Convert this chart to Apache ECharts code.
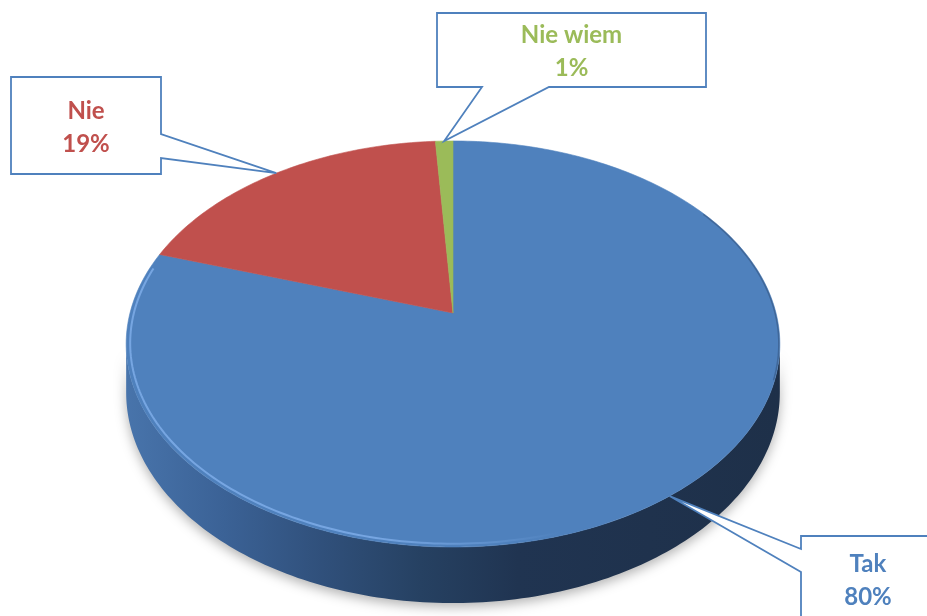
<!DOCTYPE html>
<html><head><meta charset="utf-8">
<script src="https://cdn.jsdelivr.net/npm/echarts@6/dist/echarts.min.js"></script>
<style>html,body{margin:0;padding:0;background:#fff}#c{width:927px;height:616px}</style>
</head><body><div id="c"></div>
<script>
// ---- data ----
const categories = ['Tak', 'Nie', 'Nie wiem'];
const values = [80, 19, 1];

// ---- styles / layout ----
const COLORS = ['#4F81BD', '#C0504D', '#9BBB59'];
const GEO = {cx: 453, cy: 313, a: 323, b: 198.3, k: 0.1527, depth: 47.5};
const CALLOUTS = [
  {box: [801, 536, 935, 625], side: 'left',   base: [549, 572], lines: [564, 597]},
  {box: [11, 77, 161, 174],   side: 'right',  base: [134, 158], lines: [111, 144]},
  {box: [437, 13, 706, 87],   side: 'bottom', base: [482, 549], lines: [35, 68]}
];
const FONT = 'bold 24px Lato, "Open Sans", sans-serif';

function proj(theta, drop, scale) {
  const sc = scale || 1;
  const u = Math.sin(theta) * sc, v = Math.cos(theta) * sc;
  const s = 1 / (1 + GEO.k * v);
  return [GEO.cx + GEO.a * u * s, GEO.cy - GEO.b * v * s + (drop || 0) * s];
}
function sliceAngles(i) {
  const total = values.reduce((p, c) => p + c, 0);
  let cum = 0;
  for (let j = 0; j < i; j++) cum += values[j];
  return [cum / total * Math.PI * 2, (cum + values[i]) / total * Math.PI * 2, values[i] / total];
}
function arc(a0, a1, drop, scale) {
  const pts = [];
  const n = Math.max(2, Math.ceil((a1 - a0) / (Math.PI / 180)));
  for (let t = 0; t <= n; t++) pts.push(proj(a0 + (a1 - a0) * t / n, drop, scale));
  return pts;
}

const VIS0 = Math.acos(-GEO.k), VIS1 = Math.PI * 2 - VIS0;
const sideFill = {
  type: 'linear', x: 126, y: 0, x2: 780, y2: 0, global: true,
  colorStops: [
    {offset: 0, color: '#4874ab'}, {offset: 0.15, color: '#3b6296'},
    {offset: 0.3, color: '#30507b'}, {offset: 0.45, color: '#264162'},
    {offset: 0.6, color: '#203451'}, {offset: 1, color: '#1e3049'}
  ]
};
const hiStroke = {
  type: 'linear', x: 560, y: 0, x2: 380, y2: 0, global: true,
  colorStops: [{offset: 0, color: 'rgba(125,172,232,0)'}, {offset: 1, color: 'rgba(125,172,232,0.85)'}]
};

const chart = echarts.init(document.getElementById('c'), null, {renderer: 'canvas'});
chart.setOption({
  backgroundColor: '#ffffff',
  animation: false,
  series: [
    {
      type: 'custom',
      coordinateSystem: 'none',
      data: categories.map((c, i) => ({name: c, value: values[i]})),
      renderItem: function (params, api) {
        const i = params.dataIndex;
        const [a0, a1] = sliceAngles(i);
        const col = COLORS[i];
        const children = [];
        const s0 = Math.max(a0, VIS0), s1 = Math.min(a1, VIS1);
        if (s1 > s0) {
          const top = arc(s0, s1, 0);
          const bot = arc(s0, s1, GEO.depth).reverse();
          children.push({
            type: 'polygon', z2: 1,
            shape: {points: top.concat(bot)},
            style: {fill: i === 0 ? sideFill : col, stroke: null,
              shadowBlur: 12, shadowColor: 'rgba(0,0,0,0.3)', shadowOffsetY: 4}
          });
        }
        const face = [[GEO.cx, GEO.cy]].concat(arc(a0, a1, 0));
        children.push({
          type: 'polygon', z2: 2,
          shape: {points: face},
          style: {fill: col, stroke: col, lineWidth: 0.6}
        });
        // bevel highlight (lit from the left)
        const h0 = Math.max(a0, 2.6), h1 = Math.min(a1, 4.95);
        if (h1 > h0) {
          children.push({
            type: 'polyline', z2: 3,
            shape: {points: arc(h0, h1, 0, 0.988)},
            style: {stroke: hiStroke, lineWidth: 2, fill: null}
          });
        }
        const d0 = Math.max(a0, 1.0), d1 = Math.min(a1, 1.9);
        if (d1 > d0) {
          children.push({
            type: 'polyline', z2: 3,
            shape: {points: arc(d0, d1, 0, 0.997)},
            style: {stroke: 'rgba(35,55,85,0.35)', lineWidth: 1.5, fill: null}
          });
        }
        return {type: 'group', children: children};
      }
    },
    {
      type: 'custom',
      coordinateSystem: 'none',
      z: 5,
      data: categories.map((c, i) => ({name: c, value: values[i]})),
      renderItem: function (params, api) {
        const i = params.dataIndex;
        const [a0, a1, frac] = sliceAngles(i);
        const tip = proj((a0 + a1) / 2, 0);
        const L = CALLOUTS[i];
        const [x0, y0, x1, y1] = L.box;
        let pts;
        if (L.side === 'left') {
          pts = [[x0, y0], [x1, y0], [x1, y1], [x0, y1], [x0, L.base[1]], tip, [x0, L.base[0]]];
        } else if (L.side === 'right') {
          pts = [[x0, y0], [x1, y0], [x1, L.base[0]], tip, [x1, L.base[1]], [x1, y1], [x0, y1]];
        } else {
          pts = [[x0, y0], [x1, y0], [x1, y1], [L.base[1], y1], tip, [L.base[0], y1], [x0, y1]];
        }
        const tx = (x0 + x1) / 2;
        return {
          type: 'group',
          children: [
            {type: 'polygon', shape: {points: pts},
              style: {fill: '#ffffff', stroke: '#4F81BD', lineWidth: 1.8}},
            {type: 'text', style: {text: categories[i], x: tx, y: L.lines[0],
              align: 'center', verticalAlign: 'middle', fill: COLORS[i], font: FONT}},
            {type: 'text', style: {text: Math.round(frac * 100) + '%', x: tx, y: L.lines[1],
              align: 'center', verticalAlign: 'middle', fill: COLORS[i], font: FONT}}
          ]
        };
      }
    }
  ]
});
</script>
</body></html>
